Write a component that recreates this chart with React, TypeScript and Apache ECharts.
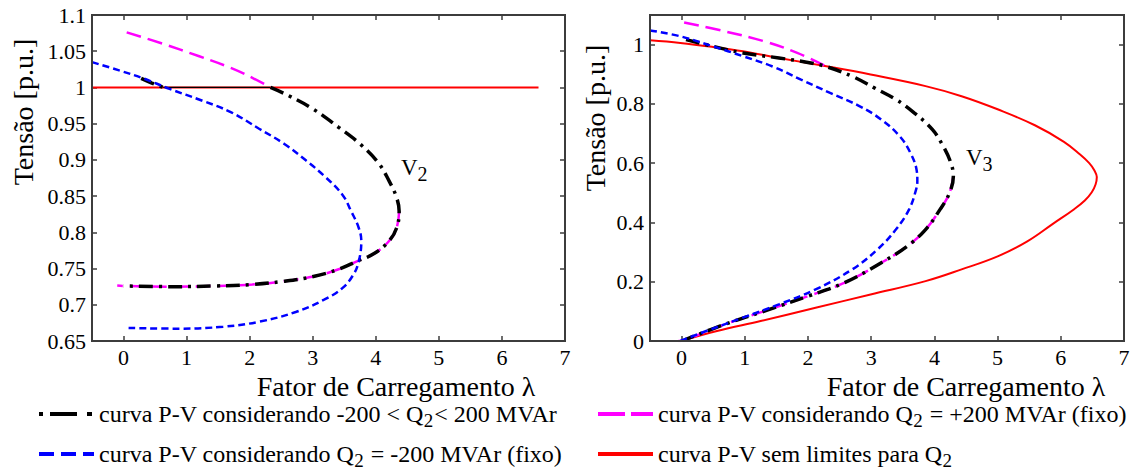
import React, { useEffect, useRef } from "react";
import * as echarts from "echarts";

const FONT = "Liberation Serif";
const FRAME = "#3c3c3c";

// ---------- Left chart (V2) ----------
const v2Red = [[-0.5, 1.0], [6.58, 1.0]];
const v2PosUpper = [[0.05, 1.076], [0.6, 1.061], [1.2, 1.043], [1.7, 1.027], [2.05, 1.013], [2.33, 1.0]];
const v2LimStart = [[0.28, 1.0125], [0.45, 1.006], [0.63, 1.0]];
const v2LimFlat = [[0.63, 1.0], [2.33, 1.0]];
const v2LimNoseUpper = [
  [2.33, 1.0], [2.61, 0.989], [3.01, 0.97], [3.41, 0.945], [3.75, 0.922], [4.04, 0.896],
  [4.21, 0.871], [4.33, 0.848], [4.37, 0.829],
];
const v2SharedLower = [
  [4.37, 0.829], [4.33, 0.806], [4.21, 0.788], [3.98, 0.771], [3.7, 0.76], [3.41, 0.749],
  [3.01, 0.739], [2.5, 0.732], [2.04, 0.728], [1.47, 0.726], [0.78, 0.725], [0.0, 0.726],
];
const v2PosTail = [[-0.1, 0.7265]];
const v2Neg = [
  [-0.5, 1.035], [-0.07, 1.0235], [0.33, 1.012], [0.73, 0.998], [1.24, 0.982], [1.7, 0.966],
  [2.15, 0.943], [2.55, 0.922], [2.9, 0.8987], [3.18, 0.878], [3.47, 0.852], [3.61, 0.829],
  [3.73, 0.806], [3.77, 0.788], [3.73, 0.76], [3.64, 0.741], [3.47, 0.723], [3.18, 0.707],
  [2.73, 0.69], [2.15, 0.6766], [1.58, 0.6697], [0.9, 0.667], [0.08, 0.668],
];

// ---------- Right chart (V3) ----------
const v3Red = [
  [-0.5, 1.0146], [-0.02, 1.0056], [0.5, 0.992], [0.97, 0.9775], [1.54, 0.955], [2.29, 0.927],
  [2.99, 0.899], [3.86, 0.86], [4.43, 0.826], [5.01, 0.781], [5.59, 0.728], [6.05, 0.672],
  [6.3, 0.63], [6.45, 0.6], [6.53, 0.576], [6.57, 0.553], [6.55, 0.528], [6.49, 0.502],
  [6.38, 0.474], [6.2, 0.443], [5.88, 0.396], [5.47, 0.336], [5.01, 0.2865], [4.43, 0.2416],
  [3.86, 0.202], [2.99, 0.157], [2.12, 0.112], [1.25, 0.0674], [0.56, 0.0337], [0.04, 0.003],
];
const v3PosUpper = [[0.04, 1.075], [0.68, 1.045], [1.31, 1.011], [1.83, 0.972], [2.3, 0.925]];
const v3LimUpper = [
  [0.07, 1.017], [0.5, 0.994], [0.97, 0.972], [1.54, 0.955], [2.0, 0.94], [2.3, 0.925],
  [2.7, 0.893], [3.05, 0.854], [3.39, 0.815], [3.68, 0.77], [3.97, 0.713], [4.14, 0.657],
  [4.26, 0.601], [4.3, 0.556],
];
const v3SharedLower = [
  [4.3, 0.556], [4.24, 0.5], [4.09, 0.444], [3.86, 0.376], [3.57, 0.32], [3.16, 0.264],
  [2.58, 0.197], [2.01, 0.152], [1.31, 0.101], [0.68, 0.056], [0.04, 0.003],
];
const v3PosTail = [[-0.05, 0.0]];
const v3Neg = [
  [-0.5, 1.048], [-0.02, 1.028], [0.5, 0.994], [0.97, 0.961], [1.43, 0.927], [1.89, 0.882],
  [2.35, 0.837], [2.82, 0.792], [3.16, 0.747], [3.45, 0.691], [3.62, 0.635], [3.72, 0.575],
  [3.73, 0.54], [3.71, 0.511], [3.6, 0.444], [3.39, 0.376], [3.1, 0.309], [2.7, 0.2416],
  [2.12, 0.174], [1.54, 0.1236], [0.97, 0.0787], [0.39, 0.0337], [-0.02, 0.0],
];

// ---------- Axis and legend texts ----------
const xTitle = "Fator de Carregamento λ";
const yTitle = "Tensão [p.u.]";
const xRange = [-0.5, 7];
const v2YRange = [0.65, 1.1];
const v3YRange = [0, 1.1];
const legendTexts: Record<string, string> = {
  lim: "{a|curva P-V considerando -200 < Q}{s|2}{a|< 200 MVAr}",
  pos: "{a|curva P-V considerando Q}{s|2}{a| = +200 MVAr (fixo)}",
  neg: "{a|curva P-V considerando Q}{s|2}{a| = -200 MVAr (fixo)}",
  free: "{a|curva P-V sem limites para Q}{s|2}",
};

const RED = "#ff0000";
const MAGENTA = "#ff00ff";
const BLUE = "#0000ff";
const BLACK = "#000000";

const DASHDOT = [14, 6, 3, 6];
const BLUE_DASH = [7, 4];
const MAG_DASH = [15, 7];

export default function App() {
  const ref = useRef<HTMLDivElement>(null);

  useEffect(() => {
    if (!ref.current) return;
    const chart = echarts.init(ref.current, null, { renderer: "svg" });

    const tick = { show: true, inside: true, length: 5, lineStyle: { color: FRAME, width: 1.5 } };
    const line = { show: true, onZero: false, lineStyle: { color: FRAME, width: 2 } };
    const labelBase = { color: "#000", fontFamily: FONT, fontSize: 22 };

    const makeX = (gridIndex: number, position: string, labels: boolean) => ({
      type: "value",
      gridIndex,
      position,
      min: xRange[0],
      max: xRange[1],
      minInterval: 1,
      maxInterval: 1,
      axisLine: line,
      axisTick: tick,
      splitLine: { show: false },
      axisLabel: labels
        ? { ...labelBase, margin: 5, formatter: (v: number) => (Number.isInteger(v) ? String(v) : "") }
        : { show: false },
    });
    const makeY = (gridIndex: number, position: string, range: number[], interval: number, labels: boolean) => ({
      type: "value",
      gridIndex,
      position,
      min: range[0],
      max: range[1],
      interval,
      axisLine: line,
      axisTick: tick,
      splitLine: { show: false },
      axisLabel: labels
        ? {
            ...labelBase,
            margin: 6,
            formatter: (v: number) => {
              const k = Math.round((v - range[0]) / interval);
              if (Math.abs(range[0] + k * interval - v) > 1e-6) return "";
              return String(Math.round(v * 1000) / 1000);
            },
          }
        : { show: false },
    });

    const ser = (name: string, data: number[][], color: string, width: number, type: any, xi: number, z: number) => ({
      type: "line",
      name,
      data,
      xAxisIndex: xi,
      yAxisIndex: xi,
      symbol: "none",
      showSymbol: false,
      smooth: 0.4,
      z,
      lineStyle: { color, width, type, cap: "butt" },
      itemStyle: { color },
      silent: true,
    });

    const rich = {
      a: { fontFamily: FONT, fontSize: 24, color: "#000", lineHeight: 24, verticalAlign: "top" },
      s: { fontFamily: FONT, fontSize: 19, color: "#000", lineHeight: 17, padding: [9, 1, 0, 0], verticalAlign: "top" },
    };

    const legendOf = (name: string, left: number, top: number, lineStyle: any) => ({
      data: [{ name, lineStyle, itemStyle: { opacity: 0, borderWidth: 0 } }],
      left,
      top,
      itemWidth: 55,
      itemHeight: 14,
      selectedMode: false,
      formatter: (n: string) => legendTexts[n],
      textStyle: { color: "#000", fontFamily: FONT, fontSize: 24, rich },
    });

    const titleStyle = (text: string) => ({
      text, fontFamily: FONT, fontSize: 28, fill: "#000", align: "center", verticalAlign: "middle",
    });
    const vRich = {
      v: { fontFamily: FONT, fontSize: 23, lineHeight: 23, verticalAlign: "top" },
      s: { fontFamily: FONT, fontSize: 20, lineHeight: 20, padding: [8, 0, 0, 0], verticalAlign: "top" },
    };

    const option: any = {
      animation: false,
      backgroundColor: "#ffffff",
      textStyle: { fontFamily: FONT },
      grid: [
        { left: 92, top: 15, width: 473, height: 326, show: false },
        { left: 650, top: 15, width: 474, height: 326, show: false },
      ],
      xAxis: [makeX(0, "bottom", true), makeX(1, "bottom", true), makeX(0, "top", false), makeX(1, "top", false)],
      yAxis: [
        makeY(0, "left", v2YRange, 0.05, true),
        makeY(1, "left", v3YRange, 0.2, true),
        makeY(0, "right", v2YRange, 0.05, false),
        makeY(1, "right", v3YRange, 0.2, false),
      ],
      legend: [
        legendOf("lim", 32, 397, { width: 4, type: [4, 7, 27, 10, 5, 20] }),
        legendOf("pos", 591, 397, { width: 4, type: [27, 6, 22, 20] }),
        legendOf("neg", 32, 437, { width: 4, type: [15, 7] }),
        legendOf("free", 591, 437, { width: 4, type: "solid" }),
      ],
      series: [
        // left chart (V2)
        ser("free", v2Red, RED, 2, "solid", 0, 2),
        ser("pos", v2PosUpper, MAGENTA, 2.5, MAG_DASH, 0, 3),
        ser("pos", [...v2SharedLower, ...v2PosTail], MAGENTA, 2.5, MAG_DASH, 0, 3),
        ser("lim", [...v2LimNoseUpper, ...v2SharedLower.slice(1)], BLACK, 3.5, DASHDOT, 0, 4),
        ser("lim", v2LimStart, BLACK, 3.5, DASHDOT, 0, 4),
        ser("limFlat", v2LimFlat, BLACK, 1.2, "solid", 0, 4),
        ser("neg", v2Neg, BLUE, 2.5, BLUE_DASH, 0, 5),
        // right chart (V3)
        ser("free", v3Red, RED, 2, "solid", 1, 2),
        ser("pos", v3PosUpper, MAGENTA, 2.5, MAG_DASH, 1, 3),
        ser("pos", [...v3SharedLower, ...v3PosTail], MAGENTA, 2.5, MAG_DASH, 1, 3),
        ser("lim", [...v3LimUpper, ...v3SharedLower.slice(1)], BLACK, 3.5, DASHDOT, 1, 4),
        ser("neg", v3Neg, BLUE, 2.5, BLUE_DASH, 1, 5),
      ],
      graphic: [
        { type: "rect", shape: { x: 92, y: 15, width: 473, height: 326 }, style: { fill: "none", stroke: FRAME, lineWidth: 2 }, silent: true, z: 10 },
        { type: "rect", shape: { x: 650, y: 15, width: 474, height: 326 }, style: { fill: "none", stroke: FRAME, lineWidth: 2 }, silent: true, z: 10 },
        { type: "text", x: 396, y: 386, style: titleStyle(xTitle) },
        { type: "text", x: 966, y: 386, style: titleStyle(xTitle) },
        { type: "text", x: 23, y: 112, rotation: Math.PI / 2, style: titleStyle(yTitle) },
        { type: "text", x: 595, y: 118, rotation: Math.PI / 2, style: titleStyle(yTitle) },
        { type: "text", x: 401, y: 156, style: { text: "{v|V}{s|2}", fill: "#000", rich: vRich } },
        { type: "text", x: 966, y: 146, style: { text: "{v|V}{s|3}", fill: "#000", rich: vRich } },
      ],
    };

    chart.setOption(option);
    return () => chart.dispose();
  }, []);

  return (
    <div
      ref={ref}
      style={{ position: "fixed", left: 0, top: 0, width: 1135, height: 473, background: "#fff" }}
    />
  );
}
